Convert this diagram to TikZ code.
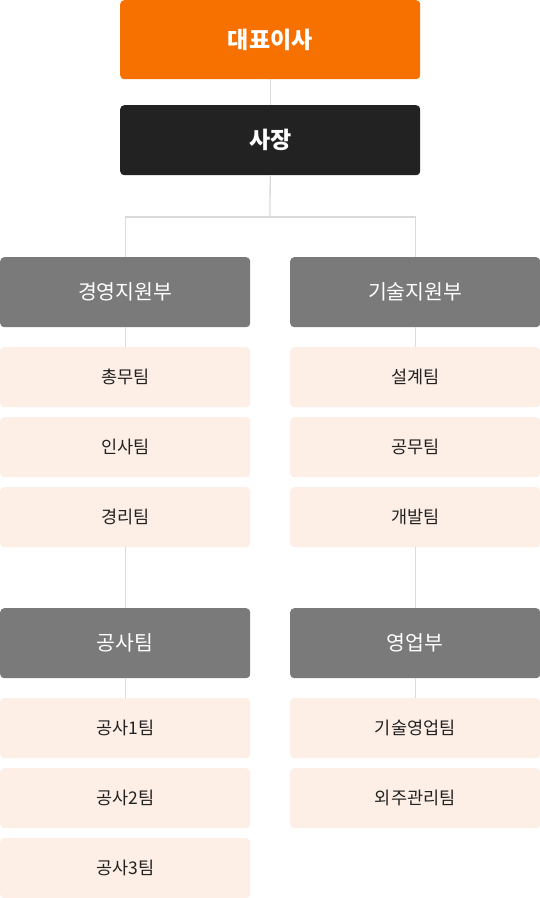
\documentclass[tikz,border=0pt]{standalone}
\usepackage{fontspec}
\setmainfont{Noto Sans CJK KR}
\definecolor{ceoOrange}{HTML}{F77100}
\definecolor{presDark}{HTML}{222222}
\definecolor{deptGray}{HTML}{7A7A7A}
\definecolor{teamPale}{HTML}{FDEFE6}
\definecolor{teamText}{HTML}{222222}
\definecolor{linkGray}{HTML}{DADADA}
\begin{document}
\begin{tikzpicture}[x=1pt,y=-1pt,
  boxbase/.style={rounded corners=4pt, inner sep=0pt, anchor=north west},
  ceobox/.style={boxbase, fill=ceoOrange, minimum width=300pt, minimum height=79pt, text=white, font=\fontsize{23}{27}\selectfont\bfseries},
  presbox/.style={boxbase, fill=presDark, minimum width=300pt, minimum height=70pt, text=white, font=\fontsize{23}{27}\selectfont\bfseries},
  deptbox/.style={boxbase, fill=deptGray, minimum width=250pt, minimum height=70pt, text=white, font=\fontsize{20.5}{24}\selectfont},
  teambox/.style={boxbase, fill=teamPale, minimum width=250pt, minimum height=60pt, text=teamText, font=\fontsize{17.5}{21}\selectfont},
  link/.style={draw=linkGray, line width=1.3pt}
]
\useasboundingbox (0,0) rectangle (540,898);
\node[ceobox] (ceo) at (120,0) {대표이사};
\node[presbox] (pres) at (120,105) {사장};
\node[deptbox] (d1) at (0,257) {경영지원부};
\node[deptbox] (d2) at (290,257) {기술지원부};
\node[teambox] (t11) at (0,347) {총무팀};
\node[teambox] (t12) at (0,417) {인사팀};
\node[teambox] (t13) at (0,487) {경리팀};
\node[teambox] (t21) at (290,347) {설계팀};
\node[teambox] (t22) at (290,417) {공무팀};
\node[teambox] (t23) at (290,487) {개발팀};
\node[deptbox] (d3) at (0,608) {공사팀};
\node[deptbox] (d4) at (290,608) {영업부};
\node[teambox] (t31) at (0,698) {공사1팀};
\node[teambox] (t32) at (0,768) {공사2팀};
\node[teambox] (t33) at (0,838) {공사3팀};
\node[teambox] (t41) at (290,698) {기술영업팀};
\node[teambox] (t42) at (290,768) {외주관리팀};
\coordinate (split) at (270,217);
\draw[link] (ceo.south) -- (pres.north);
\draw[link] (pres.south) -- (split);
\draw[link] (split) -| (d1.north);
\draw[link] (split) -| (d2.north);
\draw[link] (d1.south) -- (t11.north);
\draw[link] (d2.south) -- (t21.north);
\draw[link] (t13.south) -- (d3.north);
\draw[link] (t23.south) -- (d4.north);
\draw[link] (d3.south) -- (t31.north);
\draw[link] (d4.south) -- (t41.north);
\end{tikzpicture}
\end{document}
